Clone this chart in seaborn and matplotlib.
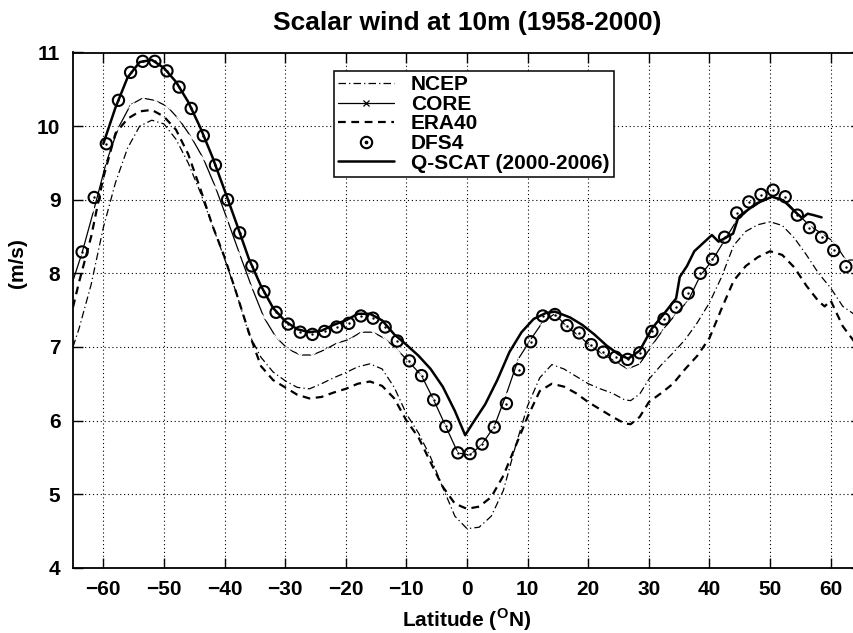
import pandas as pd
import matplotlib
matplotlib.use("Agg")
import matplotlib.pyplot as plt
import seaborn as sns
from matplotlib.lines import Line2D
from matplotlib.legend_handler import HandlerTuple

# values (latitude in degN, wind in m/s)
ncep_lat = [-65, -64, -62, -60, -58, -56, -54, -52, -50, -48, -46, -44, -42, -40, -38, -36,
            -34, -32, -30, -28, -26, -24, -22, -20, -18, -16, -14, -12, -10, -8, -6, -4,
            -2, 0, 2, 4, 6, 8, 10, 12, 14, 16, 18, 20, 22, 24, 26, 27, 28.5, 30, 32, 34,
            36, 38, 40, 42, 44, 46, 48, 50, 52, 54, 56, 58, 60, 62, 65]
ncep_wind = [7.0, 7.25, 7.85, 8.62, 9.23, 9.70, 10.0, 10.08, 10.03, 9.82, 9.50, 9.10, 8.65,
             8.20, 7.72, 7.18, 6.86, 6.66, 6.54, 6.45, 6.43, 6.50, 6.58, 6.65, 6.73, 6.77,
             6.70, 6.45, 6.09, 5.83, 5.50, 5.09, 4.70, 4.53, 4.55, 4.70, 5.05, 5.65, 6.20,
             6.58, 6.76, 6.70, 6.60, 6.50, 6.43, 6.37, 6.28, 6.27, 6.36, 6.56, 6.75, 6.92,
             7.10, 7.33, 7.60, 7.95, 8.38, 8.57, 8.66, 8.70, 8.65, 8.48, 8.25, 8.00, 7.80,
             7.55, 7.38]

era_lat = [-65, -64, -62, -60, -58, -56, -54, -52, -50, -48, -46, -44, -42, -40, -38, -36,
           -34, -32, -30, -28, -26, -24, -22, -20, -18, -16, -14, -12, -10, -8, -6, -4,
           -2, 0, 2, 4, 6, 8, 10, 12, 14, 16, 18, 20, 22, 24, 26, 27, 28.5, 30, 32, 34,
           36, 38, 40, 42, 44, 46, 48, 50, 52, 54, 56, 58, 59, 60, 62, 65]
era_wind = [7.54, 7.88, 8.50, 9.30, 9.90, 10.10, 10.20, 10.22, 10.13, 9.95, 9.62, 9.15,
            8.65, 8.22, 7.72, 7.20, 6.74, 6.55, 6.45, 6.35, 6.30, 6.32, 6.38, 6.43, 6.50,
            6.53, 6.47, 6.30, 6.00, 5.77, 5.43, 5.10, 4.87, 4.80, 4.83, 4.96, 5.25, 5.65,
            6.05, 6.40, 6.50, 6.46, 6.37, 6.25, 6.15, 6.05, 5.96, 5.95, 6.05, 6.25, 6.37,
            6.50, 6.70, 6.88, 7.12, 7.52, 7.90, 8.10, 8.22, 8.30, 8.25, 8.08, 7.83, 7.62,
            7.55, 7.63, 7.28, 6.95]

core_lat = [-65, -63.5, -61.5, -59.5, -57.5, -55.5, -53.5, -51.5, -49.5, -47.5, -45.5,
            -43.5, -41.5, -39.5, -37.5, -35.5, -33.5, -31.5, -29.5, -27.5, -25.5, -23.5,
            -21.5, -19.5, -17.5, -15.5, -13.5, -11.5, -9.5, -7.5, -5.5, -3.5, -1.5, 0.5,
            2.5, 4.5, 6.5, 8.5, 10.5, 12.5, 14.5, 16.5, 18.5, 20.5, 22.5, 24.5, 26.5, 28.5,
            30.5, 32.5, 34.5, 36.5, 38.5, 40.5, 42.5, 44.5, 46.5, 48.5, 50.5, 52.5, 54.5,
            56.5, 58.5, 60.5, 62.5, 65]
core_wind = [7.90, 8.28, 8.88, 9.51, 9.98, 10.29, 10.38, 10.35, 10.27, 10.09, 9.85, 9.56,
             9.17, 8.72, 8.26, 7.81, 7.40, 7.13, 6.97, 6.89, 6.89, 6.96, 7.05, 7.10, 7.20,
             7.20, 7.11, 6.96, 6.79, 6.61, 6.28, 5.92, 5.56, 5.53, 5.68, 5.92, 6.36, 6.84,
             7.10, 7.34, 7.45, 7.27, 7.15, 7.00, 6.90, 6.80, 6.70, 6.77, 7.02, 7.25, 7.45,
             7.63, 7.97, 8.18, 8.45, 8.72, 8.86, 8.97, 9.04, 8.99, 8.81, 8.65, 8.54, 8.43,
             8.18, 8.18]

dfs_lat = [-63.5, -61.5, -59.5, -57.5, -55.5, -53.5, -51.5, -49.5, -47.5, -45.5, -43.5,
           -41.5, -39.5, -37.5, -35.5, -33.5, -31.5, -29.5, -27.5, -25.5, -23.5, -21.5,
           -19.5, -17.5, -15.5, -13.5, -11.5, -9.5, -7.5, -5.5, -3.5, -1.5, 0.5, 2.5, 4.5,
           6.5, 8.5, 10.5, 12.5, 14.5, 16.5, 18.5, 20.5, 22.5, 24.5, 26.5, 28.5, 30.5,
           32.5, 34.5, 36.5, 38.5, 40.5, 42.5, 44.5, 46.5, 48.5, 50.5, 52.5, 54.5, 56.5,
           58.5, 60.5, 62.5]
dfs_wind = [8.29, 9.03, 9.76, 10.35, 10.73, 10.88, 10.88, 10.75, 10.53, 10.24, 9.87, 9.47,
            9.00, 8.55, 8.10, 7.75, 7.47, 7.31, 7.20, 7.17, 7.21, 7.27, 7.32, 7.42, 7.39,
            7.27, 7.08, 6.81, 6.61, 6.28, 5.92, 5.56, 5.55, 5.68, 5.91, 6.23, 6.69, 7.07,
            7.42, 7.44, 7.29, 7.19, 7.03, 6.93, 6.86, 6.83, 6.92, 7.21, 7.38, 7.54, 7.73,
            8.00, 8.19, 8.49, 8.82, 8.97, 9.07, 9.13, 9.04, 8.79, 8.62, 8.49, 8.31, 8.09]

qscat_lat = [-60, -58, -56, -54, -52, -50, -48, -46, -44, -42, -40, -38, -36, -34, -32, -30,
             -28, -26, -24, -22, -20, -18, -16, -14, -12, -10, -8, -6, -4, -2, -0.3, 1, 3,
             5, 7, 9, 11, 13, 14.5, 17, 19, 21, 23, 25, 26.6, 28.5, 30.5, 32.5, 34.5, 35.1,
             36.3, 37.5, 40.4, 41.5, 43.9, 44.8, 47.8, 50.3, 52.2, 54.2, 55.3, 56.2, 57.2,
             58.5]
qscat_wind = [9.76, 10.25, 10.66, 10.87, 10.90, 10.79, 10.60, 10.33, 9.98, 9.58, 9.13, 8.67,
              8.20, 7.83, 7.53, 7.35, 7.24, 7.20, 7.22, 7.30, 7.36, 7.45, 7.45, 7.36, 7.17,
              7.03, 6.88, 6.70, 6.46, 6.13, 5.80, 5.97, 6.22, 6.55, 6.93, 7.20, 7.38, 7.46,
              7.48, 7.40, 7.30, 7.17, 7.02, 6.90, 6.84, 6.95, 7.25, 7.45, 7.66, 7.95, 8.10,
              8.30, 8.52, 8.43, 8.54, 8.77, 8.95, 9.04, 8.99, 8.83, 8.75, 8.81, 8.79, 8.76]

sns.set_style("ticks")
plt.rcParams['font.family'] = ['Liberation Sans', 'DejaVu Sans']
plt.rcParams['font.weight'] = 'bold'
plt.rcParams['text.color'] = 'black'
plt.rcParams['axes.labelcolor'] = 'black'
plt.rcParams['xtick.color'] = 'black'
plt.rcParams['ytick.color'] = 'black'
plt.rcParams['mathtext.fontset'] = 'custom'
plt.rcParams['mathtext.bf'] = 'Liberation Sans:bold'
plt.rcParams['mathtext.rm'] = 'Liberation Sans:bold'

fig = plt.figure(figsize=(8.54, 6.33), dpi=100)
ax = fig.add_axes([73 / 854, 1 - 567.7 / 633, 788 / 854, (567.7 - 52.5) / 633])

sns.lineplot(x=ncep_lat, y=ncep_wind, ax=ax, color='black', lw=0.9,
             linestyle=(0, (6, 2.5, 1, 2.5)))
sns.lineplot(x=core_lat, y=core_wind, ax=ax, color='black', lw=0.9,
             marker='x', markersize=4.5, mew=0.9, markevery=slice(1, -1))
sns.lineplot(x=era_lat, y=era_wind, ax=ax, color='black', lw=1.6,
             linestyle=(0, (3.5, 2.5)))
sns.lineplot(x=qscat_lat, y=qscat_wind, ax=ax, color='black', lw=1.8)
sns.scatterplot(x=dfs_lat, y=dfs_wind, ax=ax, marker='o', s=66,
                facecolors='none', edgecolors='black', linewidths=1.5, zorder=5)
sns.scatterplot(x=dfs_lat, y=dfs_wind, ax=ax, marker='o', s=3,
                color='black', linewidths=0, zorder=5)

ax.set_xlim(-65, 65)
ax.set_ylim(4, 11)
ax.set_xticks([-60, -50, -40, -30, -20, -10, 0, 10, 20, 30, 40, 50, 60])
ax.set_yticks([4, 5, 6, 7, 8, 9, 10, 11])
ax.tick_params(direction='in', length=7, width=1, labelsize=15, top=True,
               right=True, pad=9, colors='black')
for lab in ax.get_xticklabels() + ax.get_yticklabels():
    lab.set_fontweight('bold')
ax.grid(True, color='black', linestyle=(0, (1, 2.5)), lw=0.8)
for sp in ax.spines.values():
    sp.set_linewidth(1.3)
    sp.set_color('black')

ax.set_title('Scalar wind at 10m (1958-2000)', fontsize=19, fontweight='bold', pad=16)
ax.set_xlabel(r'Latitude ($^{\mathbf{O}}$N)', fontsize=15, fontweight='bold', labelpad=5)
ax.set_ylabel('')
fig.text(17 / 854, 1 - 263 / 633, '(m/s)', rotation=90, ha='center', va='center',
         fontsize=15, fontweight='bold')

h_ncep = Line2D([0, 1], [0, 0], color='black', lw=0.9, linestyle=(0, (6, 2.5, 1, 2.5)))
h_core = Line2D([0, 1], [0, 0], color='black', lw=0.9, marker='x', markersize=4.5,
                mew=0.9)
h_era = Line2D([0, 1], [0, 0], color='black', lw=1.6, linestyle=(0, (3.5, 2.5)))
h_dfs_o = Line2D([], [], color='black', lw=0, marker='o', markersize=8.2,
                 mfc='none', mew=1.5)
h_dfs_d = Line2D([], [], color='black', lw=0, marker='o', markersize=1.7)
h_qs = Line2D([0, 1], [0, 0], color='black', lw=1.8)
leg = ax.legend([h_ncep, h_core, h_era, (h_dfs_o, h_dfs_d), h_qs],
                ['NCEP', 'CORE', 'ERA40', 'DFS4', 'Q-SCAT (2000-2006)'],
                handler_map={tuple: HandlerTuple(ndivide=1, pad=0)},
                loc='upper left', bbox_to_anchor=(0.331, 0.964),
                prop={'weight': 'bold', 'size': 15}, frameon=True, fancybox=False,
                framealpha=1, edgecolor='black', handlelength=2.7, handletextpad=0.8,
                labelspacing=0.03, borderpad=0.2, borderaxespad=0, markerscale=1)
leg.get_frame().set_linewidth(1.1)

plt.savefig('out.png', dpi=100)
